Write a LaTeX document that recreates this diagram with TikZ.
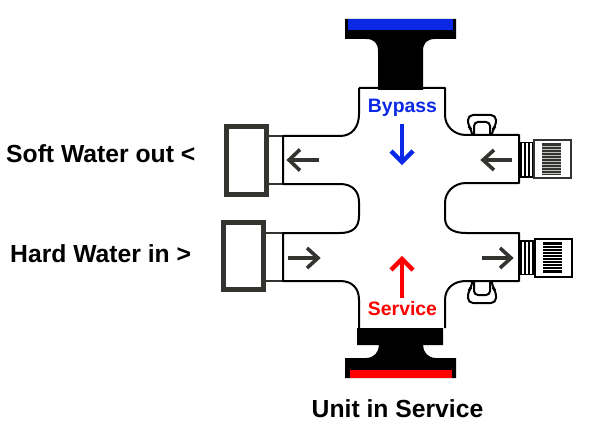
\documentclass[tikz,border=0pt]{standalone}
\usepackage{fontspec}
\setmainfont{Liberation Sans}
\definecolor{dk}{HTML}{333330}
\definecolor{bl}{HTML}{0A28E6}
\tikzset{
 lbl/.style={font=\fontsize{24.7}{28}\selectfont\bfseries,inner sep=0pt},
 sm/.style={font=\fontsize{19.4}{22}\selectfont\bfseries,inner sep=0pt},
 body/.style={line width=2pt,line join=round},
 thin part/.style={line width=1.4pt,draw=dk},
 portbox/.style={draw=dk,line width=4.8pt,fill=white},
 flow/.style={dk,line width=3.6pt},
 bigflow/.style={line width=4.4pt},
}
\begin{document}
\begin{tikzpicture}[x=1pt,y=-1pt]
\useasboundingbox (0,0) rectangle (590,436);
% top flange
\fill[black] (345,19) -- (456,19) -- (456,39) -- (435,39) .. controls (427,39) and (423,43) .. (423,51) -- (423,90) -- (378,90) -- (378,51) .. controls (378,43) and (374,39) .. (366,39) -- (345,39) -- cycle;
\fill[bl] (348,19) rectangle (453,30);
% bottom flange
\fill[black] (357,328) -- (443,328) -- (443,345) -- (423,345) .. controls (423,352) and (428,358) .. (436,358) -- (456,358) -- (456,378) -- (345,378) -- (345,358) -- (366,358) .. controls (374,358) and (379,352) .. (379,345) -- (357,345) -- cycle;
\fill[red] (350,370) rectangle (452,378);
% left stubs
\draw[thin part] (268,136) -- (284,136) (268,184) -- (284,184) (266,233) -- (284,233) (266,281) -- (284,281);
% body
\draw[body]
 (445,328) -- (445,300) .. controls (445,288) and (454,281) .. (466,281) -- (519,281) -- (519,233) -- (466,233)
 .. controls (454,233) and (445,229) .. (445,218)
 -- (445,203) .. controls (445,192) and (454,183) .. (466,183) -- (519,183) -- (519,135) -- (466,135)
 .. controls (454,135) and (445,126) .. (445,115) -- (445,88) -- (359,88);
\draw[body] (359,328) -- (359,300) .. controls (359,288) and (352,281) .. (340,281) -- (283,281) -- (283,233) -- (340,233)
 .. controls (352,233) and (359,228) .. (359,216) -- (359,202) .. controls (359,191) and (352,184) .. (340,184) -- (283,184) -- (283,136) -- (340,136)
 .. controls (352,136) and (359,127) .. (359,114) -- (359,88);
% handles
\draw[line width=2pt,rounded corners=5pt] (472,135) -- (472,130) -- (468,126) -- (468,115) -- (496,115) -- (496,126) -- (492,130) -- (492,135);
\draw[line width=2pt,rounded corners=4pt] (474,135) -- (474,122) -- (490,122) -- (490,135);
\draw[line width=2pt,rounded corners=5pt] (472,281) -- (472,287) -- (468,291) -- (468,303) -- (496,303) -- (496,291) -- (492,287) -- (492,281);
\draw[line width=2pt,rounded corners=4pt] (474,281) -- (474,295) -- (490,295) -- (490,281);
% left boxes
\node[portbox,minimum width=40.4pt,minimum height=68.4pt,inner sep=0pt] (up) at (246.5,160.5) {};
\node[portbox,minimum width=40.4pt,minimum height=67.4pt,inner sep=0pt] (lo) at (243.5,256) {};
% right upper connector
\fill[black] (519,142) rectangle (534,178);
\foreach \x in {523,527,531} \fill[white] (\x-1,143.5) rectangle (\x+.8,176.5);
\draw[line width=2pt,draw=dk,fill=white] (534,140) rectangle (571,178);
\fill[dk] (542,143) rectangle (561,175);
\foreach \y in {146,149,...,173} \draw[white!70!dk,line width=.6pt] (542,\y) -- (561,\y);
% right lower connector
\fill[black] (519,240) rectangle (535,275);
\foreach \x in {523,527,531} \fill[white] (\x-1,241.5) rectangle (\x+.8,273.5);
\draw[line width=2pt,draw=black,fill=white] (535,239) rectangle (572,277);
\fill[black] (543,242) rectangle (562,273);
\foreach \y in {245,248,...,271} \draw[white,line width=.6pt] (543,\y) -- (562,\y);
% flow arrows
\coordinate (a1s) at (319,160); \coordinate (a1e) at (289,160);
\draw[flow] (a1s) -- (a1e); \draw[flow] (300,149.5) -- (a1e) -- (300,170.5);
\coordinate (a2s) at (512,160); \coordinate (a2e) at (483,160);
\draw[flow] (a2s) -- (a2e); \draw[flow] (494,150) -- (a2e) -- (494,170);
\coordinate (a3s) at (288,258); \coordinate (a3e) at (318,258);
\draw[flow] (a3s) -- (a3e); \draw[flow] (307,248) -- (a3e) -- (307,268);
\coordinate (a4s) at (482,258); \coordinate (a4e) at (511,258);
\draw[flow] (a4s) -- (a4e); \draw[flow] (500,248) -- (a4e) -- (500,268);
\draw[bigflow,bl] (402,124) -- (402,161); \draw[bigflow,bl] (391,151) -- (402,162) -- (413,151);
\draw[bigflow,red] (402,298) -- (402,260); \draw[bigflow,red] (391,270) -- (402,259) -- (413,270);
% labels
\node[sm,text=bl] (bypass) at (402.5,108) {Bypass};
\node[sm,text=red] (service) at (402.5,309) {Service};
\node[lbl,anchor=base west] (soft) at (6,162) {Soft Water out <};
\node[lbl,anchor=base west] (hard) at (10,262) {Hard Water in >};
\node[lbl,anchor=base] (unit) at (397.5,417) {Unit in Service};
\end{tikzpicture}
\end{document}
